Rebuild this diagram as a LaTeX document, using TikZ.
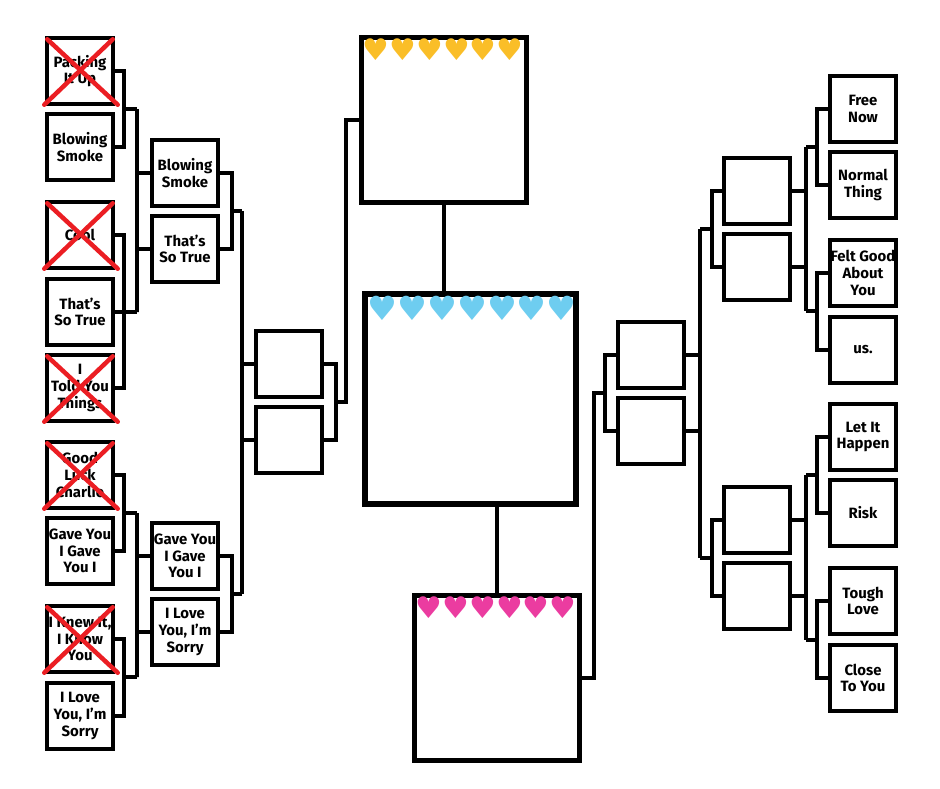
\documentclass[tikz,border=0pt]{standalone}
\usepackage{fontspec}
\setmainfont{Fira Sans}
\newfontfamily\symbolfont{DejaVu Sans}
\usetikzlibrary{positioning}

\definecolor{heart_yellow}{RGB}{250,190,40}
\definecolor{heart_blue}{RGB}{110,205,240}
\definecolor{heart_pink}{RGB}{235,60,160}
\definecolor{cross_red}{RGB}{235,30,35}

\tikzset{
  song/.style={draw, line width=0.07cm, minimum width=1.32cm, minimum height=1.32cm,
    inner sep=0pt, align=center, font=\fontsize{8.5}{9.5}\selectfont\bfseries},
  bigbox/.style={draw, line width=0.1cm, inner sep=0pt},
  link/.style={line width=0.07cm},
  cross/.style={cross_red, line width=0.09cm, line cap=round},
  hearts/.style={inner sep=0pt, anchor=north west}
}
\newcommand{\crossout}[1]{%
  \draw[cross] ([shift={(2,3)}]#1.north west) -- ([shift={(3,-1)}]#1.south east);
  \draw[cross] ([shift={(-2,3)}]#1.north east) -- ([shift={(-1,-1)}]#1.south west);}

\begin{document}
\begin{tikzpicture}[x=0.02cm, y=-0.02cm]
\useasboundingbox (0,0) rectangle (940,788);
% first round, left
\node[song] (l1) at (80,71) {Packing\\It Up};
\node[song] (l2) at (80,147) {Blowing\\Smoke};
\node[song] (l3) at (80,235) {Cool};
\node[song] (l4) at (80,312) {That’s\\So True};
\node[song] (l5) at (80,388) {I\\Told You\\Things};
\node[song] (l6) at (80,475) {Good\\Luck\\Charlie};
\node[song] (l7) at (80,551) {Gave You\\I Gave\\You I};
\node[song] (l8) at (80,639) {I Knew It,\\I Know\\You};
\node[song] (l9) at (80,716) {I Love\\You, I’m\\Sorry};
\foreach \n in {l1,l3,l5,l6,l8} {\crossout{\n}}
% second and third round, left
\node[song] (m1) at (185,173) {Blowing\\Smoke};
\node[song] (m2) at (185,249) {That’s\\So True};
\node[song] (m3) at (185,556) {Gave You\\I Gave\\You I};
\node[song] (m4) at (185,632) {I Love\\You, I’m\\Sorry};
\node[song] (q1) at (289,364) {};
\node[song] (q2) at (289,440) {};
% podium
\node[bigbox, minimum size=3.32cm] (top) at (444,120) {};
\node[bigbox, minimum size=4.22cm, line width=0.12cm] (mid) at (470.5,399) {};
\node[bigbox, minimum size=3.32cm] (bot) at (497,678) {};
\node[hearts, text=heart_yellow, font=\symbolfont\fontsize{17}{17}\selectfont] (h1) at ([shift={(4,4)}]top.north west) {♥♥♥♥♥♥};
\node[hearts, text=heart_blue, font=\symbolfont\fontsize{19}{19}\selectfont] (h2) at ([shift={(5,5)}]mid.north west) {♥♥♥♥♥♥♥};
\node[hearts, text=heart_pink, font=\symbolfont\fontsize{17}{17}\selectfont] (h3) at ([shift={(4,4)}]bot.north west) {♥♥♥♥♥♥};
% second and third round, right
\node[song] (s1) at (757,191) {};
\node[song] (s2) at (757,267) {};
\node[song] (s3) at (757,520) {};
\node[song] (s4) at (757,596) {};
\node[song] (t1) at (651,355) {};
\node[song] (t2) at (651,431) {};
% first round, right
\node[song] (r1) at (863,109) {Free\\Now};
\node[song] (r2) at (863,185) {Normal\\Thing};
\node[song] (r3) at (863,273) {Felt Good\\About\\You};
\node[song] (r4) at (863,350) {us.};
\node[song] (r5) at (863,437) {Let It\\Happen};
\node[song] (r6) at (863,513) {Risk};
\node[song] (r7) at (863,601) {Tough\\Love};
\node[song] (r8) at (863,678) {Close\\To You};

% left brackets
\coordinate (ja) at (124,109); \coordinate (jb) at (137,109);
\coordinate (jc) at (124,312); \coordinate (jd) at (137,312);
\coordinate (je) at (124,513); \coordinate (jf) at (137,513);
\coordinate (jg) at (124,677); \coordinate (jh) at (137,677);
\draw[link] (l1.east) -| (ja) |- (l2.east) (ja) -- (jb);
\draw[link] (l3.east) -| (jc) |- (l5.east) (l4.east) -- (jd);
\draw[link] (l6.east) -| (je) |- (l7.east) (je) -- (jf);
\draw[link] (l8.east) -| (jg) |- (l9.east) (jg) -- (jh);
\draw[link] (m1.west) -| (jb) -- (jd) |- (m2.west);
\draw[link] (m3.west) -| (jf) -- (jh) |- (m4.west);
\coordinate (ka) at (232,211); \coordinate (kb) at (242,211);
\coordinate (kc) at (232,594); \coordinate (kd) at (242,594);
\draw[link] (m1.east) -| (ka) |- (m2.east) (ka) -- (kb);
\draw[link] (m3.east) -| (kc) |- (m4.east) (kc) -- (kd);
\draw[link] (kb) -- (kd) (q1.west) -- (q1.west -| kb) (q2.west) -- (q2.west -| kb);
\coordinate (na) at (336,402); \coordinate (nb) at (346,402);
\draw[link] (q1.east) -| (na) |- (q2.east) (na) -- (nb) |- (top.west);
% podium links
\draw[link] (top.south) -- (top.south |- mid.north);
\draw[link] (bot.north) -- (bot.north |- mid.south);
% right brackets
\coordinate (pa) at (817,147); \coordinate (pb) at (806,147);
\coordinate (pc) at (817,311); \coordinate (pd) at (806,311);
\coordinate (pe) at (817,475); \coordinate (pf) at (806,475);
\coordinate (pg) at (817,640); \coordinate (ph) at (806,640);
\draw[link] (r1.west) -| (pa) |- (r2.west) (pa) -- (pb);
\draw[link] (r3.west) -| (pc) |- (r4.west) (pc) -- (pd);
\draw[link] (r5.west) -| (pe) |- (r6.west) (pe) -- (pf);
\draw[link] (r7.west) -| (pg) |- (r8.west) (pg) -- (ph);
\draw[link] (pb) -- (pd) (s1.east) -- (s1.east -| pb) (s2.east) -- (s2.east -| pb);
\draw[link] (pf) -- (ph) (s3.east) -- (s3.east -| pf) (s4.east) -- (s4.east -| pf);
\coordinate (ua) at (712,229); \coordinate (ub) at (700,229);
\coordinate (uc) at (712,558); \coordinate (ud) at (700,558);
\draw[link] (s1.west) -| (ua) |- (s2.west) (ua) -- (ub);
\draw[link] (s3.west) -| (uc) |- (s4.west) (uc) -- (ud);
\draw[link] (ub) -- (ud) (t1.east) -- (t1.east -| ub) (t2.east) -- (t2.east -| ub);
\coordinate (va) at (605,393); \coordinate (vb) at (594,393);
\draw[link] (t1.west) -| (va) |- (t2.west) (va) -- (vb) |- (bot.east);
\end{tikzpicture}
\end{document}
